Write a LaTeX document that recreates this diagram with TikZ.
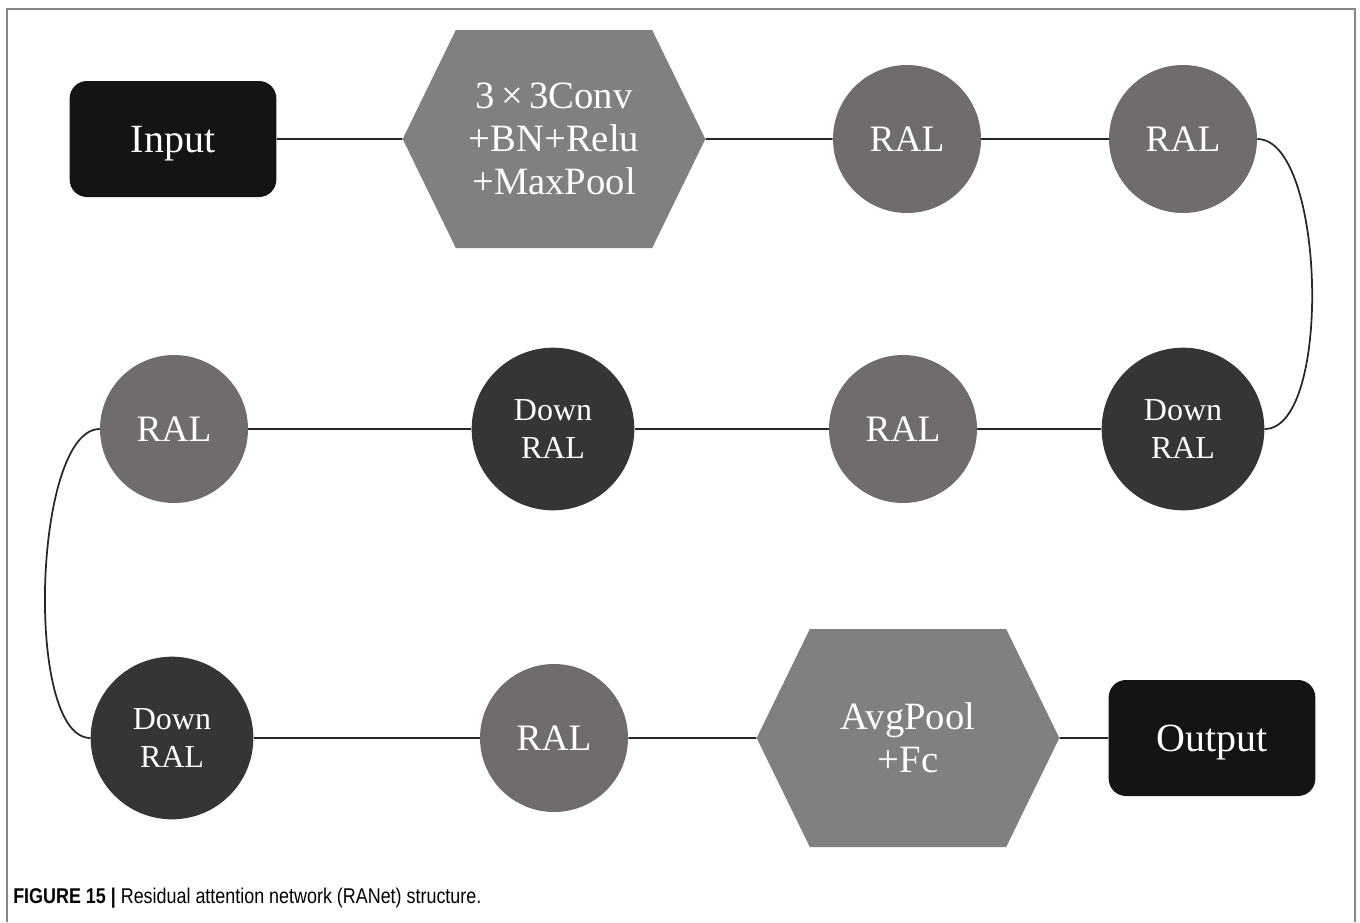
\documentclass[tikz,border=0pt]{standalone}
\usepackage{fontspec}
\setmainfont{Liberation Serif}
\newfontfamily\capfont[FakeStretch=0.84]{Liberation Sans}
\usetikzlibrary{shapes.symbols}

\definecolor{boxblack}{RGB}{20,20,20}
\definecolor{hexgray}{RGB}{128,128,128}
\definecolor{ralgray}{RGB}{113,108,108}
\definecolor{downgray}{RGB}{54,52,52}
\definecolor{framegray}{RGB}{135,135,135}

\tikzset{
  blackbox/.style={rectangle, rounded corners=13pt, fill=boxblack, text=white,
    minimum width=155pt, minimum height=87pt, inner sep=0pt,
    text height=19.5pt, text depth=0pt,
    font=\fontsize{30}{36}\selectfont},
  hexbox/.style={signal, signal to=west and east, signal pointer angle=128,
    fill=hexgray, text=white, minimum width=227pt, minimum height=163.5pt,
    inner sep=0pt, align=center, font=\fontsize{29}{32}\selectfont},
  ralnode/.style={circle, fill=ralgray, text=white, minimum size=111pt,
    inner sep=0pt, font=\fontsize{28}{32}\selectfont},
  downnode/.style={circle, fill=downgray, text=white, minimum size=122pt,
    inner sep=0pt, align=center, font=\fontsize{24}{28.5}\selectfont},
  link/.style={line width=1.3pt, draw=black!85}
}

\begin{document}
\begin{tikzpicture}[x=0.75pt,y=-0.75pt]
\useasboundingbox (0,0) rectangle (1360,922);
\draw[framegray, line width=1.4pt] (7,922) -- (7,9) -- (1355,9) -- (1355,922);

% first row
\node[blackbox] (input) at (173,139) {Input};
\node[hexbox] (conv) at (554,139) {3\,×\,3Conv\\+BN+Relu\\+MaxPool};
\node[ralnode] (ral1) at (907,139) {RAL};
\node[ralnode] (ral2) at (1183,139) {RAL};

% second row
\node[downnode] (down1) at (1183,429) {Down\\RAL};
\node[ralnode] (ral3) at (903,429) {RAL};
\node[downnode] (down2) at (553,429) {Down\\RAL};
\node[ralnode] (ral4) at (174,429) {RAL};

% third row
\node[downnode] (down3) at (172,738) {Down\\RAL};
\node[ralnode] (ral5) at (554,738) {RAL};
\node[hexbox] (pool) at (908,738) {AvgPool\\+Fc};
\node[blackbox] (output) at (1212,738) {Output};

\draw[link] (input) -- (conv);
\draw[link] (conv) -- (ral1);
\draw[link] (ral1) -- (ral2);
\draw[link] (ral2.east) to[out=0,in=0,looseness=0.6] (down1.east);
\draw[link] (down1) -- (ral3);
\draw[link] (ral3) -- (down2);
\draw[link] (down2) -- (ral4);
\draw[link] (ral4.west) to[out=180,in=180,looseness=0.55] (down3.west);
\draw[link] (down3) -- (ral5);
\draw[link] (ral5) -- (pool);
\draw[link] (pool) -- (output);

\node[anchor=base west, inner sep=0pt, font=\capfont\fontsize{16}{18}\selectfont]
  (caption) at (13,903) {\textbf{FIGURE 15 |} Residual attention network (RANet) structure.};
\end{tikzpicture}
\end{document}
